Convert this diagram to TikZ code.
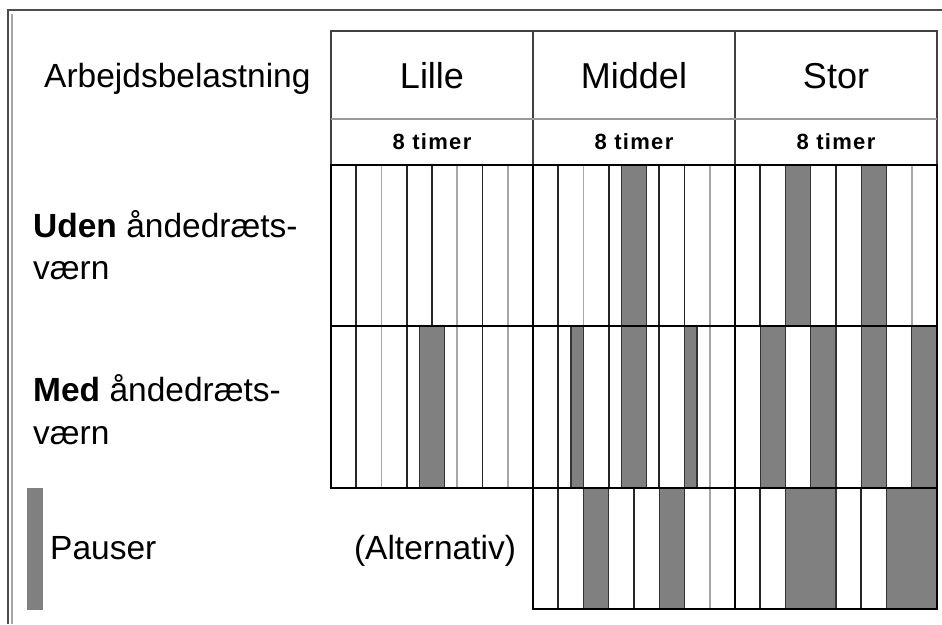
\documentclass[tikz,border=0pt]{standalone}
\usepackage{fontspec}
\setmainfont{Liberation Sans}
\definecolor{barfill}{HTML}{808080}
\newcommand\slw{25.25}
\newcommand\pbar[5]{\draw[pausebox] ({#1+#2*\slw},#4) rectangle ({#1+#3*\slw},#5);}
\begin{document}
\begin{tikzpicture}[x=1pt,y=-1pt,
  gridline/.style={line width=2.8pt, draw=black, line cap=rect},
  hdrline/.style={line width=1.3pt, draw=black!75},
  subline/.style={line width=1.2pt, draw=black!40},
  slotd/.style={line width=1.8pt, draw=black!85},
  slotg/.style={line width=1.6pt, draw=black!35},
  pausebox/.style={fill=barfill, draw=black!80, line width=1.4pt},
  lbl/.style={font=\fontsize{33.5}{40}\selectfont, inner sep=0pt, anchor=base west},
  hdr/.style={font=\fontsize{36}{42}\selectfont, inner sep=0pt, anchor=base},
  sub/.style={font=\fontsize{22}{26}\selectfont\bfseries\addfontfeature{LetterSpace=6}, inner sep=0pt, anchor=base}]
\useasboundingbox (0,0) rectangle (942,624);
\fill[white] (0,0) rectangle (942,624);
% outer frame
\draw[line width=1.3pt, black!70] (8,624) -- (8,10) -- (942,10);
\draw[line width=1.1pt, black!35] (12,624) -- (12,14);
% header
\draw[hdrline] (331,31) rectangle (937,165);
\draw[hdrline] (533,31) -- (533,165) (735,31) -- (735,165);
\draw[subline] (331,119) -- (937,119);
% bars
\pbar{331}{3.5}{4.5}{326}{488}
\pbar{533}{3.5}{4.5}{165}{326}
\pbar{533}{1.5}{2}{326}{488}
\pbar{533}{3.5}{4.5}{326}{488}
\pbar{533}{6}{6.5}{326}{488}
\pbar{533}{2}{3}{488}{609}
\pbar{533}{5}{6}{488}{609}
\pbar{735}{2}{3}{165}{326}
\pbar{735}{5}{6}{165}{326}
\pbar{735}{1}{2}{326}{488}
\pbar{735}{3}{4}{326}{488}
\pbar{735}{5}{6}{326}{488}
\pbar{735}{7}{8}{326}{488}
\pbar{735}{2}{4}{488}{609}
\pbar{735}{6}{8}{488}{609}
% slot lines
\foreach \k/\s in {1/slotd,2/slotg,3/slotd,4/slotd,5/slotg,6/slotd,7/slotg}
  \draw[\s] ({331+\k*\slw},165) -- ({331+\k*\slw},326);
\foreach \k/\s in {1/slotd,2/slotg,3/slotd,5/slotg,6/slotd,7/slotg}
  \draw[\s] ({331+\k*\slw},326) -- ({331+\k*\slw},488);
\foreach \k/\s in {1/slotd,2/slotg,3/slotd,5/slotd,6/slotd,7/slotg}
  \draw[\s] ({533+\k*\slw},165) -- ({533+\k*\slw},326);
\foreach \k/\s in {1/slotd,3/slotd,5/slotd,7/slotg}
  \draw[\s] ({533+\k*\slw},326) -- ({533+\k*\slw},488);
\foreach \k/\s in {1/slotd,4/slotd,7/slotg}
  \draw[\s] ({533+\k*\slw},488) -- ({533+\k*\slw},609);
\foreach \k/\s in {1/slotd,4/slotd,7/slotg}
  \draw[\s] ({735+\k*\slw},165) -- ({735+\k*\slw},326);
\foreach \k/\s in {1/slotd,5/slotd}
  \draw[\s] ({735+\k*\slw},488) -- ({735+\k*\slw},609);
% thick grid
\draw[gridline] (331,165) -- (937,165) (331,326) -- (937,326) (331,488) -- (937,488) (533,609) -- (937,609);
\draw[gridline] (331,165) -- (331,488) (533,165) -- (533,609) (735,165) -- (735,609) (937,165) -- (937,609);
% legend bar
\fill[barfill] (27,488) rectangle (43,610);
% texts
\node[lbl] (arb) at (44,87) {Arbejdsbelastning};
\node[hdr] (lille) at (432,88) {Lille};
\node[hdr] (middel) at (634,88) {Middel};
\node[hdr] (stor) at (836,88) {Stor};
\node[sub] (t1) at (432,149) {8 timer};
\node[sub] (t2) at (634,149) {8 timer};
\node[sub] (t3) at (836,149) {8 timer};
\node[lbl] (uden1) at (33,237) {\textbf{Uden} åndedræts-};
\node[lbl] (uden2) at (33,279) {værn};
\node[lbl] (med1) at (33,401) {\textbf{Med} åndedræts-};
\node[lbl] (med2) at (33,444) {værn};
\node[lbl] (pauser) at (50,559) {Pauser};
\node[lbl, anchor=base] (alt) at (435,559) {(Alternativ)};
\end{tikzpicture}
\end{document}
